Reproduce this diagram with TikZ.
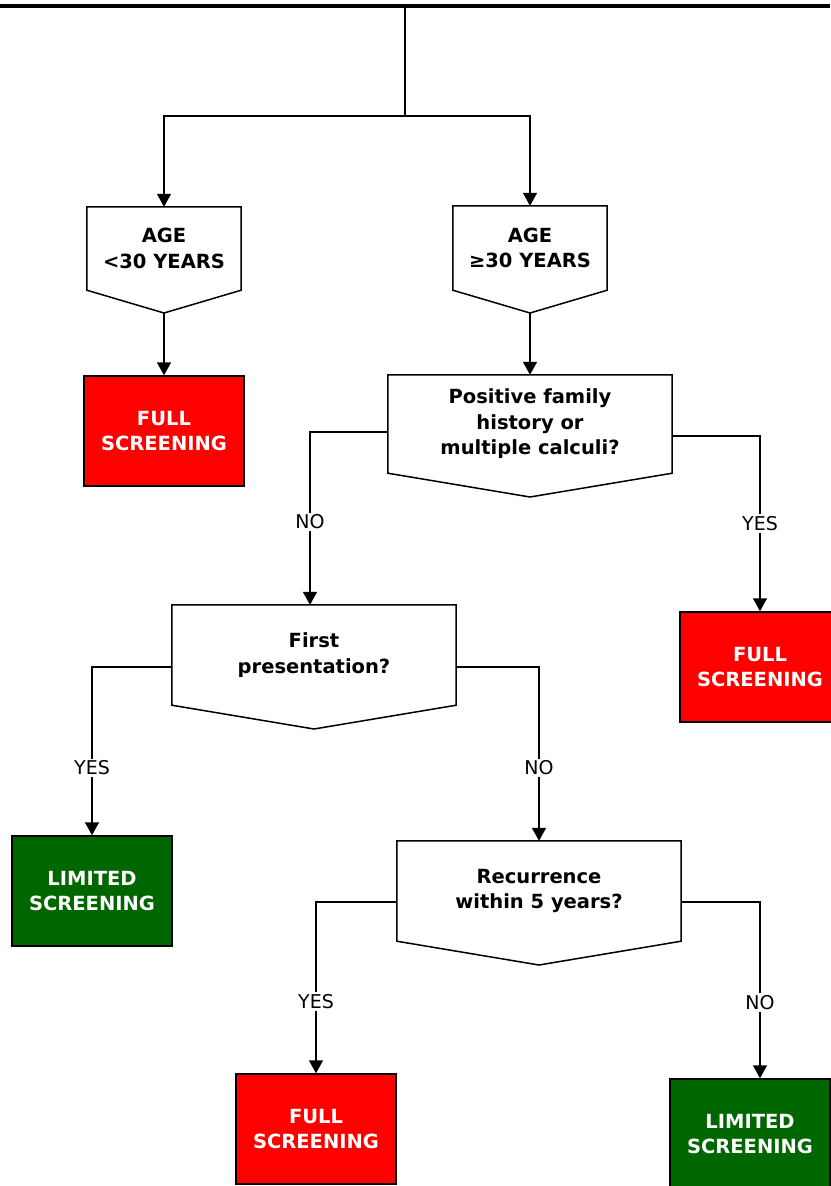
\documentclass[tikz,border=0pt]{standalone}
\usepackage{fontspec}
\setmainfont{DejaVu Sans}
\usetikzlibrary{arrows.meta}
\definecolor{fullred}{RGB}{255,0,0}
\definecolor{limgreen}{RGB}{0,102,0}
\tikzset{
  wire/.style={line width=1.5pt},
  conn/.style={line width=1.5pt, -{Triangle[width=14pt,length=13pt]}},
  qbox/.style={font=\bfseries\fontsize{19.5}{25.5}\selectfont, align=center, text=black, inner sep=0pt},
  result/.style={draw=black, line width=1.5pt, font=\bfseries\fontsize{19.5}{25}\selectfont, text=white, align=center, minimum width=160pt, minimum height=110pt, inner sep=0pt},
  redbox/.style={result, fill=fullred},
  greenbox/.style={result, fill=limgreen},
  lbl/.style={fill=white, font=\fontsize{19}{23}\selectfont, inner sep=2pt}
}
\newcommand{\pentagon}[1]{\draw[wire] (#1.north west) -- (#1.north east) -- (#1.south east) -- (#1-tip) -- (#1.south west) -- cycle;}
\begin{document}
\begin{tikzpicture}[x=1pt,y=-1pt]
\useasboundingbox (0,0) rectangle (830,1186);

% top bar
\coordinate (barL) at (0,6);
\coordinate (barR) at (830,6);
\coordinate (root) at (405,6);
\coordinate (split) at (405,116);
\draw[line width=4.5pt] (barL) -- (barR);

% decision boxes
\node[qbox, minimum width=154pt, minimum height=83pt] (age1) at (164,248.5) {AGE\\<30 YEARS};
\coordinate (age1-tip) at (164,313);
\pentagon{age1}

\node[qbox, minimum width=154pt, minimum height=84pt] (age2) at (530,248) {AGE\\≥30 YEARS};
\coordinate (age2-tip) at (530,313);
\pentagon{age2}

\node[qbox, minimum width=284pt, minimum height=98pt] (pos) at (530,424) {Positive family\\history or\\multiple calculi?};
\coordinate (pos-tip) at (530,497);
\pentagon{pos}

\node[qbox, minimum width=284pt, minimum height=100pt] (first) at (314,655) {First\\presentation?};
\coordinate (first-tip) at (314,729);
\pentagon{first}

\node[qbox, minimum width=284pt, minimum height=100pt] (rec) at (539,891) {Recurrence\\within 5 years?};
\coordinate (rec-tip) at (539,965);
\pentagon{rec}

% result boxes
\node[redbox] (full1) at (164,431) {FULL\\SCREENING};
\node[redbox] (full2) at (760,667) {FULL\\SCREENING};
\node[greenbox] (lim1) at (92,891) {LIMITED\\SCREENING};
\node[redbox] (full3) at (316,1129) {FULL\\SCREENING};
\node[greenbox] (lim2) at (750,1134) {LIMITED\\SCREENING};

% connectors
\draw[wire] (root) -- (split);
\draw[conn] (split) -| (age1.north);
\draw[conn] (split) -| (age2.north);
\draw[conn] (age1-tip) -- (full1.north);
\draw[conn] (age2-tip) -- (pos.north);

\draw[conn] ([yshift=-8pt]pos.west) -| node[lbl, pos=0.76] {NO} ([xshift=-4pt]first.north);
\draw[conn] ([yshift=-12pt]pos.east) -| node[lbl, pos=0.75] {YES} (full2.north);

\draw[conn] ([yshift=-12pt]first.west) -| node[lbl, pos=0.8] {YES} (lim1.north);
\draw[conn] ([yshift=-12pt]first.east) -| node[lbl, pos=0.79] {NO} (rec.north);

\draw[conn] ([yshift=-11pt]rec.west) -| node[lbl, pos=0.79] {YES} (full3.north);
\draw[conn] ([yshift=-11pt]rec.east) -| node[lbl, pos=0.785] {NO} ([xshift=10pt]lim2.north);
\end{tikzpicture}
\end{document}
